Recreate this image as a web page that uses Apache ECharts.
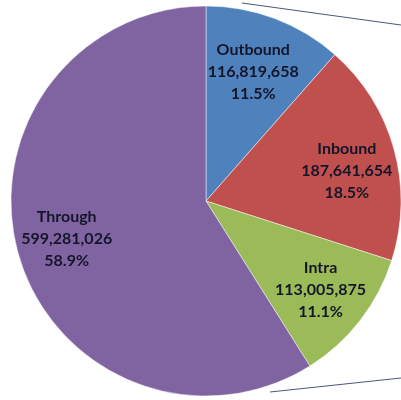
<!DOCTYPE html>
<html><head><meta charset="utf-8">
<script src="https://cdn.jsdelivr.net/npm/echarts@6/dist/echarts.min.js"></script>
<style>html,body{margin:0;padding:0;background:#fff}#c{width:401px;height:400px}</style>
</head><body><div id="c"></div>
<script>
const categories = ['Outbound', 'Inbound', 'Intra', 'Through'];
const values = [116819658, 187641654, 113005875, 599281026];
const colors = ['#4f81bd', '#c0504d', '#9bbb59', '#8064a2'];

const total = values.reduce((a, b) => a + b, 0);
function fmt(n) { return String(n).replace(/\B(?=(\d{3})+(?!\d))/g, ','); }

const center = [206, 201];
const R = 195;

const baseData = categories.map((c, i) => ({ name: c, value: values[i], itemStyle: { color: colors[i] } }));
const labelOffsets = { Through: [0, -2], Inbound: [1, 8], Outbound: [-4, 6] };
const labelData = categories.map((c, i) => ({
  name: c, value: values[i],
  label: { offset: labelOffsets[c] || [0, 0] }
}));

const chart = echarts.init(document.getElementById('c'), null, { renderer: 'canvas' });
chart.setOption({
  animation: false,
  backgroundColor: '#fff',
  series: [
    {
      type: 'pie', center: center, radius: [0, R], startAngle: 90, clockwise: true,
      silent: true, label: { show: false }, labelLine: { show: false },
      itemStyle: { borderColor: 'rgba(255,255,255,0.6)', borderWidth: 0.8 },
      data: baseData
    },
    {
      type: 'pie', center: center, radius: [89, R], startAngle: 90, clockwise: true,
      silent: true,
      itemStyle: { color: 'rgba(0,0,0,0)' },
      labelLine: { show: false },
      label: {
        show: true, position: 'inside',
        fontFamily: 'Lato', fontWeight: 'bold', fontSize: 16, lineHeight: 22,
        color: '#15152a', align: 'center',
        formatter: p => p.name + '\n' + fmt(p.value) + '\n' + (p.value / total * 100).toFixed(1) + '%'
      },
      data: labelData
    }
  ],
  graphic: [
    { type: 'line', shape: { x1: 242, y1: 3, x2: 401, y2: 25 }, style: { stroke: '#4a5878', lineWidth: 1 } },
    { type: 'line', shape: { x1: 270, y1: 392, x2: 401, y2: 378 }, style: { stroke: '#4a5878', lineWidth: 1 } }
  ]
});
</script></body></html>
